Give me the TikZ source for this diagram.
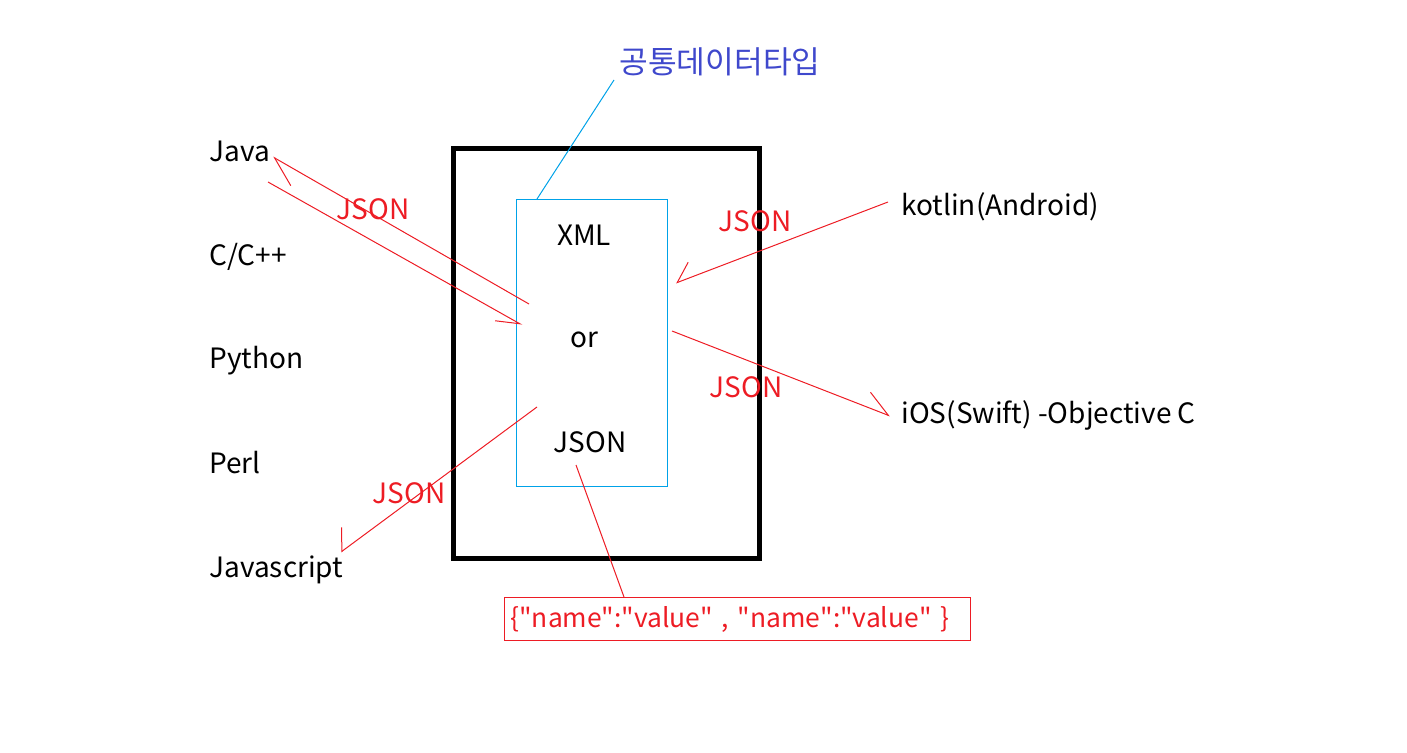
\documentclass[tikz,border=0pt]{standalone}
\usepackage{fontspec}
\setmainfont{Noto Sans CJK KR}
\usetikzlibrary{arrows.meta}
\definecolor{jred}{HTML}{ED1C24}
\definecolor{jblue}{HTML}{00A2E8}
\definecolor{jtitle}{HTML}{3F48CC}
\newcommand\qq{\textquotedbl}

\begin{document}
\begin{tikzpicture}[x=0.5pt,y=-0.5pt,
    every node/.style={font=\fontsize{14}{16}\selectfont, inner sep=0pt},
    lang/.style={anchor=base west},
    tag/.style={anchor=base, text=jred},
    redline/.style={draw=jred, line width=0.5pt},
    harp/.style 2 args={redline, -{Straight Barb[harpoon, length=#1, width=#2]}},
    harpsw/.style 2 args={redline, -{Straight Barb[harpoon, swap, length=#1, width=#2]}}]
    \useasboundingbox (0,0) rectangle (1407,753);

    % the server box and the common format box
    \node (server) [draw, line width=2.5pt, minimum width=153pt, minimum height=204.5pt] at (606,353.5) {};
    \node (common) [draw=jblue, line width=0.5pt, minimum width=75.5pt, minimum height=143pt] at (591.5,343) {};
    \node (xml)  [anchor=base] at (584,246) {XML};
    \node (or)   [anchor=base] at (584,348) {or};
    \node (json) [anchor=base] at (590,452) {JSON};
    \node (title) [text=jtitle, font=\fontsize{15.6}{18}\selectfont] at (720,62) {공통데이터타입};

    % languages
    \node (java)   [lang] at (209,162) {Java};
    \node (cpp)    [lang] at (209,266) {C/C++};
    \node (python) [lang] at (209,369) {Python};
    \node (perl)   [lang] at (209,473) {Perl};
    \node (js)     [lang] at (209,577) {Javascript};
    \node (kotlin) [lang] at (901,216) {kotlin(Android)};
    \node (ios)    [lang] at (901,423) {iOS(Swift) -Objective C};

    % JSON labels
    \node (tagjava)   [tag] at (373,220) {JSON};
    \node (tagkotlin) [tag] at (755,232) {JSON};
    \node (tagios)    [tag] at (746,397) {JSON};
    \node (tagjs)     [tag] at (409,503) {JSON};

    % sample
    \node (sample) [draw=jred, line width=0.5pt, text=jred, anchor=north west,
        font=\fontsize{13.2}{15}\selectfont,
        text width=227pt, inner xsep=3pt, minimum height=21.5pt, align=left]
        at (504,597) {\mbox{\{\qq name\qq:\qq value\qq{} , \qq name\qq:\qq value\qq{} \}}};

    % free ends
    \coordinate (javaIn)   at (529,304);
    \coordinate (javaTip)  at (273,157);
    \coordinate (javaOut)  at (268,182);
    \coordinate (boxTip)   at (522,325);
    \coordinate (kotOut)   at (888,202);
    \coordinate (kotTip)   at (676,283);
    \coordinate (iosOut)   at (672,331);
    \coordinate (iosTip)   at (890,416);
    \coordinate (jsOut)    at (537,407);
    \coordinate (jsTip)    at (341,552);
    \coordinate (jsonFoot) at (576,465);
    \coordinate (boxTop)   at (537,199);
    \coordinate (titleFoot) at (614,80);

    \draw[harp={13.9pt}{16pt}] (javaIn) -- (javaTip);
    \draw[harpsw={11.5pt}{9.5pt}] (javaOut) -- (boxTip);
    \draw[harpsw={8.7pt}{15pt}] (kotOut) -- (kotTip);
    \draw[harp={12.5pt}{15pt}] (iosOut) -- (iosTip);
    \draw[harpsw={7.1pt}{19.4pt}] (jsOut) -- (jsTip);
    \draw[redline] (jsonFoot) -- (sample.north west -| 624,0);
    \draw[jblue, line width=0.5pt] (boxTop) -- (titleFoot);
\end{tikzpicture}
\end{document}
